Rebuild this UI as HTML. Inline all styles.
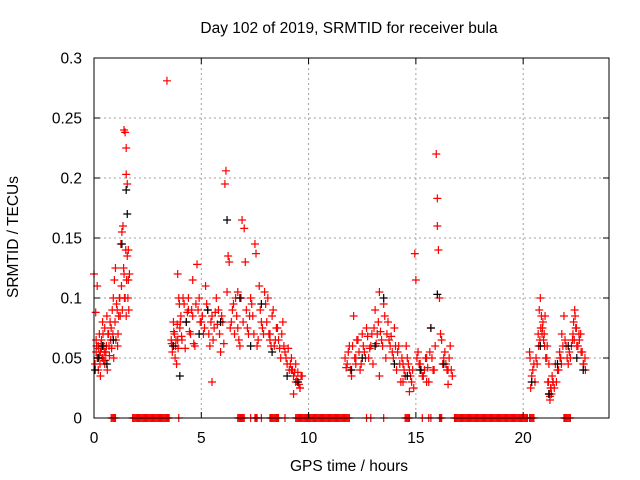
<!DOCTYPE html>
<html><head><meta charset="utf-8"><style>
body{margin:0;background:#fff}
svg{display:block;font-family:"Liberation Sans",sans-serif}
</style></head><body>
<svg id="chart" width="640" height="480" viewBox="0 0 640 480">
<rect width="640" height="480" fill="#fff"/>
<g id="grid"></g>
<g id="marks"></g>
<g id="axes"></g>
<text x="349" y="33" font-size="15.5" text-anchor="middle">Day 102 of 2019, SRMTID for receiver bula</text>
<text x="349" y="471" font-size="15.5" text-anchor="middle">GPS time / hours</text>
<text transform="translate(18,237) rotate(-90)" font-size="15.5" text-anchor="middle">SRMTID / TECUs</text>
</svg>
<script>
const xTicks=[0,5,10,15,20];
const yTicks=[0,0.05,0.1,0.15,0.2,0.25,0.3];
const yTickLabels=["0","0.05","0.1","0.15","0.2","0.25","0.3"];
const redT=[0.0,0.05,0.1,0.1,0.15,0.2,0.2,0.25,0.3,0.3,0.35,0.4,0.4,0.45,0.5,0.5,0.55,0.6,0.65,0.7,0.75,0.8,0.85,0.9,0.95,1.0,1.05,1.1,1.15,1.2,1.25,1.3,1.35,1.4,1.4,1.45,1.45,1.5,1.5,1.5,1.55,1.55,1.6,1.6,1.65,
3.4,3.6,3.65,3.7,3.75,3.8,3.85,3.9,3.95,4.0,4.05,4.1,4.2,4.3,4.4,4.5,4.6,4.7,4.8,4.85,4.9,5.0,5.1,5.2,5.3,5.4,5.5,5.6,5.7,5.8,5.9,6.0,6.1,6.15,6.2,6.25,6.3,6.4,6.5,6.6,6.7,6.8,6.9,7.0,7.05,7.1,7.2,7.3,7.4,7.5,7.55,7.6,7.7,7.8,7.9,8.0,8.1,8.2,8.3,8.4,8.5,8.6,8.7,8.8,8.9,9.0,9.1,9.2,9.3,9.4,9.5,9.6,9.7,5.5,4.4,6.7,8.2,3.9,4.6,
11.7,11.8,11.9,12.0,12.1,12.2,12.3,12.4,12.5,12.6,12.7,12.8,12.9,13.0,13.1,13.2,13.3,13.4,13.5,13.6,13.7,13.8,13.9,14.0,14.1,14.2,14.3,14.4,14.5,14.6,14.7,14.8,14.9,14.95,15.0,15.1,15.2,15.3,15.4,15.5,15.6,15.7,15.8,15.9,15.95,16.0,16.0,16.05,16.1,16.2,16.3,16.4,16.5,16.6,16.7,12.2,13.3,14.4,15.5,
20.3,20.35,20.4,20.5,20.6,20.7,20.75,20.8,20.85,20.9,20.95,21.0,21.1,21.15,21.2,21.25,21.3,21.35,21.4,21.5,21.6,21.7,21.75,21.8,21.9,22.0,22.1,22.2,22.3,22.35,22.4,22.5,22.6,22.7,22.8,22.9,21.05,22.45,
0.08,0.12,0.18,0.22,0.28,0.33,0.38,0.42,0.48,0.52,0.58,0.62,0.68,0.72,0.78,0.82,0.88,0.92,0.98,1.02,1.08,1.12,1.18,1.22,1.28,1.32,1.38,1.42,1.48,1.52,1.58,1.62,0.15,0.25,0.35,0.45,0.55,
3.62,3.68,3.72,3.78,3.82,3.88,3.92,3.98,4.02,4.08,4.15,4.25,4.35,4.45,4.55,4.65,4.75,4.95,5.05,5.15,5.25,5.35,5.45,5.55,5.65,5.75,5.85,5.95,6.05,6.35,6.45,6.55,6.65,6.75,6.85,6.95,7.15,7.25,7.35,7.45,7.65,7.75,7.85,7.95,8.05,8.15,8.25,8.35,8.45,8.55,8.65,8.75,8.85,8.95,9.05,9.15,9.25,9.35,9.45,9.55,9.65,9.2,9.4,9.5,9.6,9.3,
11.75,11.85,11.95,12.05,12.15,12.25,12.35,12.45,12.55,12.65,12.75,12.85,12.95,13.05,13.15,13.25,13.35,13.45,13.55,13.65,13.75,13.85,13.95,14.05,14.15,14.25,14.35,14.45,14.55,14.65,14.75,14.85,15.05,15.15,15.25,15.35,15.45,15.55,15.65,15.75,15.85,16.15,16.25,16.35,16.45,16.55,16.65,14.5,14.7,16.5,
20.32,20.45,20.55,20.65,20.72,20.78,20.82,20.88,20.92,20.98,21.02,21.12,21.18,21.22,21.28,21.32,21.38,21.45,21.55,21.65,21.72,21.78,21.85,21.95,22.05,22.15,22.25,22.32,22.38,22.42,22.48,22.55,22.62,22.68,22.75,22.82,22.88,21.2,21.25];
const redV=[0.12,0.045,0.055,0.065,0.05,0.06,0.04,0.07,0.055,0.035,0.065,0.05,0.08,0.06,0.075,0.045,0.055,0.085,0.07,0.06,0.08,0.075,0.09,0.1,0.115,0.125,0.095,0.06,0.085,0.1,0.145,0.155,0.16,0.12,0.24,0.1,0.238,0.225,0.203,0.085,0.195,0.135,0.14,0.115,0.12,
0.281,0.065,0.055,0.08,0.07,0.06,0.045,0.12,0.1,0.075,0.085,0.065,0.095,0.08,0.1,0.07,0.085,0.06,0.128,0.09,0.1,0.08,0.07,0.11,0.09,0.06,0.085,0.075,0.1,0.09,0.055,0.08,0.195,0.206,0.105,0.135,0.13,0.08,0.095,0.1,0.075,0.06,0.165,0.158,0.13,0.09,0.07,0.1,0.085,0.145,0.137,0.06,0.11,0.08,0.07,0.095,0.1,0.07,0.085,0.06,0.075,0.065,0.05,0.08,0.055,0.045,0.04,0.05,0.035,0.045,0.03,0.025,0.035,0.03,0.09,0.105,0.065,0.065,0.115,0.05,
0.045,0.06,0.035,0.085,0.05,0.065,0.04,0.07,0.055,0.075,0.05,0.06,0.045,0.09,0.07,0.105,0.065,0.095,0.05,0.08,0.06,0.055,0.075,0.04,0.06,0.03,0.045,0.035,0.05,0.04,0.03,0.025,0.137,0.115,0.055,0.045,0.035,0.04,0.05,0.03,0.075,0.04,0.06,0.22,0.183,0.16,0.14,0.1,0.065,0.05,0.045,0.04,0.06,0.035,0.045,0.035,0.03,0.03,0.055,
0.025,0.035,0.045,0.05,0.07,0.09,0.1,0.085,0.075,0.065,0.06,0.05,0.03,0.02,0.015,0.025,0.035,0.03,0.045,0.04,0.055,0.05,0.07,0.085,0.06,0.045,0.05,0.065,0.08,0.09,0.06,0.07,0.055,0.045,0.04,0.05,0.075,0.088,
0.06,0.05,0.058,0.045,0.062,0.05,0.07,0.055,0.048,0.06,0.04,0.07,0.052,0.065,0.058,0.07,0.05,0.08,0.065,0.09,0.07,0.1,0.085,0.11,0.09,0.125,0.1,0.14,0.115,0.1,0.09,0.11,0.052,0.058,0.048,0.055,0.062,
0.06,0.072,0.05,0.065,0.078,0.058,0.095,0.08,0.068,0.1,0.058,0.088,0.072,0.09,0.062,0.095,0.08,0.085,0.075,0.095,0.07,0.08,0.065,0.088,0.078,0.07,0.085,0.062,0.075,0.09,0.07,0.085,0.065,0.1,0.08,0.075,0.085,0.095,0.07,0.065,0.09,0.075,0.105,0.08,0.07,0.06,0.09,0.065,0.075,0.058,0.07,0.06,0.05,0.058,0.045,0.04,0.038,0.032,0.028,0.035,0.04,0.03,0.038,0.025,0.02,0.042,
0.055,0.04,0.06,0.05,0.065,0.055,0.045,0.06,0.05,0.068,0.058,0.07,0.075,0.062,0.08,0.072,0.06,0.085,0.07,0.065,0.068,0.05,0.06,0.055,0.045,0.05,0.04,0.06,0.045,0.035,0.04,0.05,0.045,0.04,0.035,0.05,0.042,0.055,0.05,0.04,0.07,0.045,0.055,0.04,0.05,0.04,0.035,0.022,0.028,0.05,
0.04,0.03,0.045,0.06,0.065,0.075,0.07,0.08,0.07,0.085,0.06,0.03,0.02,0.025,0.02,0.03,0.025,0.03,0.04,0.05,0.045,0.06,0.065,0.05,0.055,0.06,0.07,0.065,0.085,0.075,0.06,0.065,0.07,0.055,0.045,0.05,0.045,0.018,0.022];
const blackT=[0.05,0.2,0.4,0.6,0.9,1.3,1.5,1.55,3.7,4.0,4.3,4.9,5.3,5.9,6.2,6.8,7.3,7.8,8.3,9.0,9.5,12.0,12.5,13.1,13.5,14.0,14.6,15.2,15.7,16.0,16.3,20.4,20.8,21.2,21.6,22.1,22.5,22.8];
const blackV=[0.04,0.05,0.06,0.045,0.065,0.145,0.19,0.17,0.06,0.035,0.08,0.07,0.09,0.08,0.165,0.1,0.06,0.095,0.055,0.035,0.03,0.04,0.05,0.06,0.1,0.045,0.035,0.04,0.075,0.103,0.045,0.03,0.06,0.02,0.045,0.06,0.05,0.04];
const zeroT=[0.8,0.85,0.9,0.95,1.0,1.8,1.85,1.9,1.95,2.0,2.05,2.1,2.15,2.2,2.25,2.3,2.35,2.4,2.45,2.5,2.55,2.6,2.65,2.7,2.75,2.8,2.85,2.9,2.95,3.0,3.05,3.1,3.15,3.2,3.25,3.3,3.35,3.4,3.45,3.5,3.95,6.7,6.75,6.8,6.85,6.9,6.95,7.0,7.3,7.5,7.55,7.6,7.8,8.2,8.25,8.3,8.35,8.4,8.45,8.5,8.55,8.6,8.9,9.4,9.45,9.5,9.55,9.6,9.65,9.7,9.75,9.8,9.85,9.9,9.95,10.0,10.05,10.1,10.15,10.2,10.25,10.3,10.35,10.4,10.45,10.5,10.55,10.6,10.65,10.7,10.75,10.8,10.85,10.9,10.95,11.0,11.05,11.1,11.15,11.2,11.25,11.3,11.35,11.4,11.45,11.5,11.55,11.6,11.65,11.7,11.75,11.8,11.85,11.9,12.7,12.9,13.5,14.5,14.55,14.6,14.65,14.7,15.3,15.6,15.7,16.1,16.15,16.2,16.8,16.85,16.9,16.95,17.0,17.05,17.1,17.15,17.2,17.25,17.3,17.35,17.4,17.45,17.5,17.55,17.6,17.65,17.7,17.75,17.8,17.85,17.9,17.95,18.0,18.05,18.1,18.15,18.2,18.25,18.3,18.35,18.4,18.45,18.5,18.55,18.6,18.65,18.7,18.75,18.8,18.85,18.9,18.95,19.0,19.05,19.1,19.15,19.2,19.25,19.3,19.35,19.4,19.45,19.5,19.55,19.6,19.65,19.7,19.75,19.8,19.85,19.9,19.95,20.0,20.05,20.1,20.15,20.2,20.3,20.35,20.4,20.45,20.5,21.9,21.95,22.0,22.05,22.1,22.15,22.2];
const X0=94,X1=609,Y0=418,Y1=58,XMAX=24,YMAX=0.3;
const sx=v=>X0+(X1-X0)*v/XMAX, sy=v=>Y0-(Y0-Y1)*v/YMAX;
const NS="http://www.w3.org/2000/svg";
function mk(tag,at,parent){const e=document.createElementNS(NS,tag);for(const k in at)e.setAttribute(k,at[k]);parent.appendChild(e);return e;}
const grid=document.getElementById('grid'),axes=document.getElementById('axes'),marks=document.getElementById('marks');
xTicks.forEach(t=>{const x=sx(t);
 if(t>0){const g=mk('line',{x1:x,x2:x,y1:Y1,y2:Y0,stroke:'#a0a0a0','stroke-dasharray':'2,3'},grid);
 
 }
 mk('line',{x1:x,x2:x,y1:Y0,y2:Y0-6,stroke:'#000'},axes);mk('line',{x1:x,x2:x,y1:Y1,y2:Y1+6,stroke:'#000'},axes);
 const l=mk('text',{x:x,y:Y0+25,'font-size':15.5,'text-anchor':'middle'},axes);l.textContent=t;
 
 });
yTicks.forEach((t,i)=>{const y=sy(t);
 if(t>0&&t<YMAX){const g=mk('line',{x1:X0,x2:X1,y1:y,y2:y,stroke:'#a0a0a0','stroke-dasharray':'2,3'},grid);
 
 }
 mk('line',{x1:X0,x2:X0+6,y1:y,y2:y,stroke:'#000'},axes);mk('line',{x1:X1,x2:X1-6,y1:y,y2:y,stroke:'#000'},axes);
 const l=mk('text',{x:X0-12,y:y+5.5,'font-size':15.5,'text-anchor':'end'},axes);l.textContent=yTickLabels[i];
 
 });
mk('rect',{x:X0,y:Y1,width:X1-X0,height:Y0-Y1,fill:'none',stroke:'#000'},axes);
function plus(t,v,c,name){const x=sx(t),y=sy(v);
 const p=mk('path',{d:`M${x-4},${y}h8M${x},${y-4}v8`,stroke:c,'stroke-width':1.2,fill:'none'},marks);
 
 }
zeroT.forEach(t=>plus(t,0,'#f00','zero-point'));
redT.forEach((t,i)=>plus(t,redV[i],'#f00','red-point'));
blackT.forEach((t,i)=>plus(t,blackV[i],'#000','black-point'));
</script>
</body></html>
